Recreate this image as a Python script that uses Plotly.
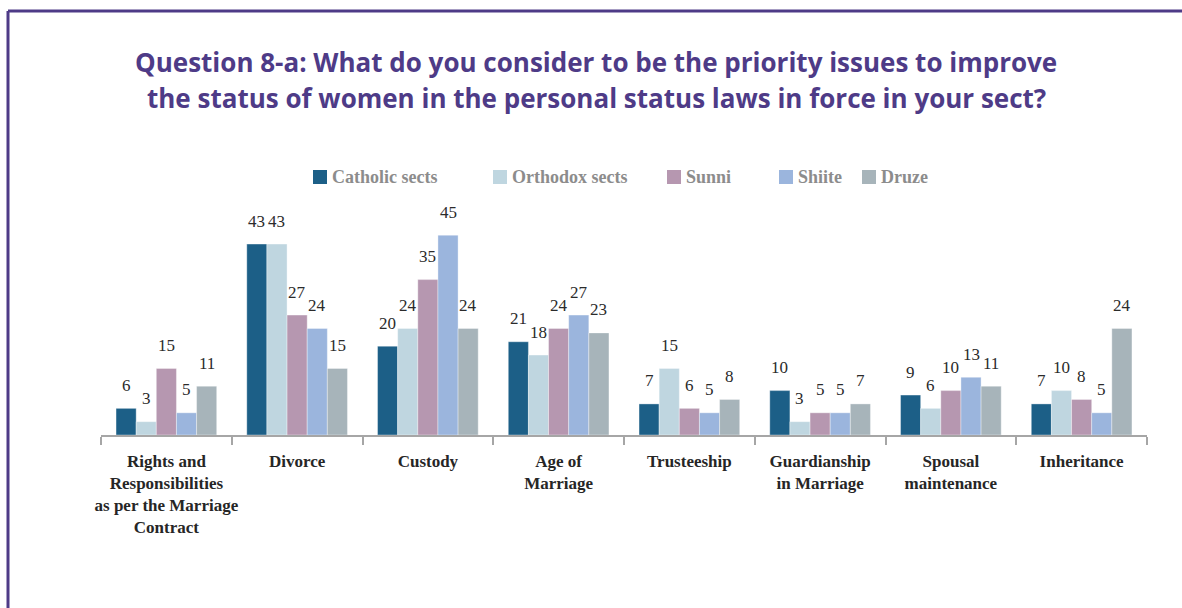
import plotly.graph_objects as go

# Survey results: share of respondents (%) by sect
categories = [
    "Rights and<br>Responsibilities<br>as per the Marriage<br>Contract",
    "Divorce",
    "Custody",
    "Age of<br>Marriage",
    "Trusteeship",
    "Guardianship<br>in Marriage",
    "Spousal<br>maintenance",
    "Inheritance",
]
catholic = [6, 43, 20, 21, 7, 10, 9, 7]
orthodox = [3, 43, 24, 18, 15, 3, 6, 10]
sunni = [15, 27, 35, 24, 6, 5, 10, 8]
shiite = [5, 24, 45, 27, 5, 5, 13, 5]
druze = [11, 15, 24, 23, 8, 7, 11, 24]

series_names = ["Catholic sects", "Orthodox sects", "Sunni", "Shiite", "Druze"]
series_values = [catholic, orthodox, sunni, shiite, druze]
series_colors = ["#1c5f87", "#bfd6e0", "#b697b0", "#9bb5dd", "#a7b4ba"]

W, H = 1182, 608
M_L, M_R, M_T, M_B = 101, 35, 213, 173
BARGAP = 0.23
Y_MAX = 50

SERIF = "Liberation Serif, Times New Roman, serif"
PURPLE = "#4e3b87"

plot_w = W - M_L - M_R
plot_h = H - M_T - M_B


def paper_y(py):
    return (H - M_B - py) / plot_h


def paper_x(px):
    return (px - M_L) / plot_w


fig = go.Figure()
for name, vals, col in zip(series_names, series_values, series_colors):
    fig.add_trace(go.Bar(
        name=name, x=categories, y=vals,
        marker=dict(color=col, line=dict(color="rgba(255,255,255,0.6)", width=0.6)),
    ))

# Value labels above each bar
cat_w = plot_w / len(categories)
bar_w = cat_w * (1 - BARGAP) / len(series_names)
for j, vals in enumerate(series_values):
    shift = (j - (len(series_names) - 1) / 2) * bar_w
    for cat, v in zip(categories, vals):
        fig.add_annotation(
            x=cat, y=v, text=str(v), showarrow=False,
            xshift=shift, yshift=23, yanchor="middle",
            font=dict(family=SERIF, size=17, color="#2b2b2b"),
        )

# Legend row: colour square followed by the series name
legend_left = [313, 493, 667, 779, 862]
LEG_Y, SQ = 177, 14
for name, col, lx in zip(series_names, series_colors, legend_left):
    fig.add_shape(type="rect", xref="paper", yref="paper",
                  x0=paper_x(lx), x1=paper_x(lx + SQ),
                  y0=paper_y(LEG_Y + SQ / 2), y1=paper_y(LEG_Y - SQ / 2),
                  fillcolor=col, line=dict(width=0))
    fig.add_annotation(
        xref="paper", yref="paper", x=paper_x(lx + SQ + 3), y=paper_y(LEG_Y),
        text=f"<b>{name}</b>", showarrow=False, xanchor="left", yanchor="middle",
        font=dict(family=SERIF, size=18, color="#8c8c8c"),
    )

# Two-line heading
for line, py in [
    ("Question 8-a: What do you consider to be the priority issues to improve", 62),
    ("the status of women in the personal status laws in force in your sect?", 98),
]:
    fig.add_annotation(
        xref="paper", yref="paper", x=paper_x(596), y=paper_y(py),
        text=f"<b>{line}</b>", showarrow=False, xanchor="center", yanchor="middle",
        font=dict(family="Open Sans, sans-serif", size=26, color=PURPLE),
    )

# Purple frame along the left and top edges
fig.add_shape(type="line", xref="paper", yref="paper",
              x0=paper_x(8), x1=paper_x(8), y0=paper_y(11), y1=paper_y(H + 5),
              line=dict(color=PURPLE, width=3))
fig.add_shape(type="line", xref="paper", yref="paper",
              x0=paper_x(8), x1=paper_x(W + 5), y0=paper_y(11), y1=paper_y(11),
              line=dict(color=PURPLE, width=3))

fig.update_layout(
    width=W, height=H,
    margin=dict(l=M_L, r=M_R, t=M_T, b=M_B, autoexpand=False),
    paper_bgcolor="white", plot_bgcolor="white",
    barmode="group", bargap=BARGAP, bargroupgap=0,
    showlegend=False,
    xaxis=dict(
        type="category", showgrid=False, showline=True, linecolor="#a6a6a6", linewidth=1.5,
        ticks="outside", tickson="boundaries", ticklen=8, tickcolor="#a6a6a6", tickwidth=1.5,
        tickangle=0,
        tickfont=dict(family=SERIF, size=17, color="#262626", weight="bold"),
        ticklabelstandoff=10,
    ),
    yaxis=dict(range=[0, Y_MAX], visible=False, showgrid=False, zeroline=False),
)

fig.write_html("out.html")
